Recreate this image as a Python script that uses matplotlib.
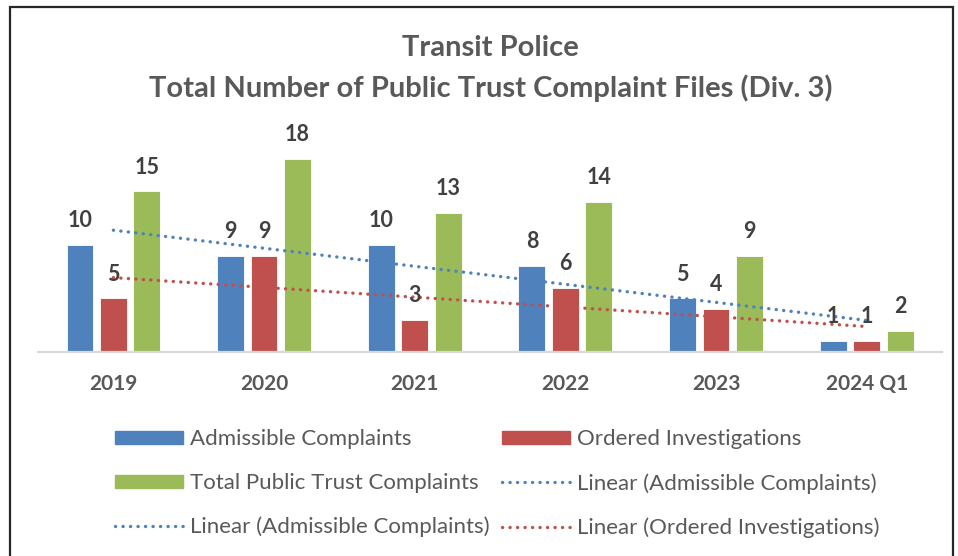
import numpy as np
import matplotlib
matplotlib.use('Agg')
import matplotlib.pyplot as plt
from matplotlib.patches import Patch, Rectangle
from matplotlib.lines import Line2D


categories = ['2019', '2020', '2021', '2022', '2023', '2024 Q1']
admissible = [10, 9, 10, 8, 5, 1]
ordered = [5, 9, 3, 6, 4, 1]
total_trust = [15, 18, 13, 14, 9, 2]

BLUE = '#4F81BD'
RED = '#C0504D'
GREEN = '#9BBB59'
TEXT = '#595959'
LABEL = '#404040'

plt.rcParams['font.family'] = ['Lato', 'DejaVu Sans']

fig = plt.figure(figsize=(9.58, 5.56), dpi=100)
ax = fig.add_axes([0.0397, 0.3669, 0.9436, 0.385])

x = np.arange(len(categories))
pitch = 0.222
width = 0.178

series = [(admissible, BLUE), (ordered, RED), (total_trust, GREEN)]
for i, (vals, col) in enumerate(series):
    pos = x + (i - 1) * pitch
    ax.bar(pos, vals, width, color=col, edgecolor='white', linewidth=0.6, zorder=2)
    for px, v in zip(pos, vals):
        ax.annotate(str(v), (px, v), xytext=(0, 10), textcoords='offset points',
                    ha='center', va='bottom', fontsize=15.5, fontweight='bold',
                    color=LABEL, zorder=4)

# Linear trendlines, fitted like Excel does (x = 1..n)
xt = np.arange(1, len(categories) + 1)
for vals, col in [(admissible, BLUE), (ordered, RED)]:
    k, b = np.polyfit(xt, vals, 1)
    ax.plot(x, k * xt + b, color=col, linewidth=2.4,
            linestyle=(0, (0.05, 2.2)), dash_capstyle='round', zorder=3)

ax.set_xlim(-0.5, len(categories) - 0.5)
ax.set_ylim(0, 20)
ax.set_yticks([])
ax.set_xticks(x)
ax.set_xticklabels(categories, fontsize=15, fontweight='bold', color=TEXT)
ax.tick_params(axis='x', length=0, pad=15.5)
for s in ['top', 'right', 'left']:
    ax.spines[s].set_visible(False)
ax.spines['bottom'].set_color('#D9D9D9')
ax.spines['bottom'].set_linewidth(1.6)

fig.text(0.512, 0.913, 'Transit Police', ha='center', va='center',
         fontsize=21, fontweight='bold', color=TEXT)
fig.text(0.512, 0.842, 'Total Number of Public Trust Complaint Files (Div. 3)',
         ha='center', va='center', fontsize=21, fontweight='bold', color=TEXT)

def trend_handle(col):
    return Line2D([], [], color=col, linewidth=2.4, linestyle=(0, (0.05, 2.2)),
                  dash_capstyle='round')

handles = [Patch(color=BLUE), Patch(color=GREEN), trend_handle(BLUE),
           Patch(color=RED), trend_handle(BLUE), trend_handle(RED)]
labels = ['Admissible Complaints', 'Total Public Trust Complaints',
          'Linear (Admissible Complaints)', 'Ordered Investigations',
          'Linear (Admissible Complaints)', 'Linear (Ordered Investigations)']
leg = fig.legend(handles, labels, ncol=2, loc='upper left',
                 bbox_to_anchor=(0.1086, 0.248), frameon=False,
                 fontsize=16, handlelength=3.06, handleheight=0.54,
                 handletextpad=0.31, columnspacing=0.54, labelspacing=1.07,
                 borderpad=0)
for t in leg.get_texts():
    t.set_color(TEXT)

# chart frame, running off the bottom of the picture
fig.patches.append(Rectangle((10 / 958, -0.05), 943 / 958, 1.05 - 7 / 556,
                             transform=fig.transFigure, fill=False,
                             edgecolor='#262626', linewidth=1.6))

fig.savefig('out.png', dpi=100)
